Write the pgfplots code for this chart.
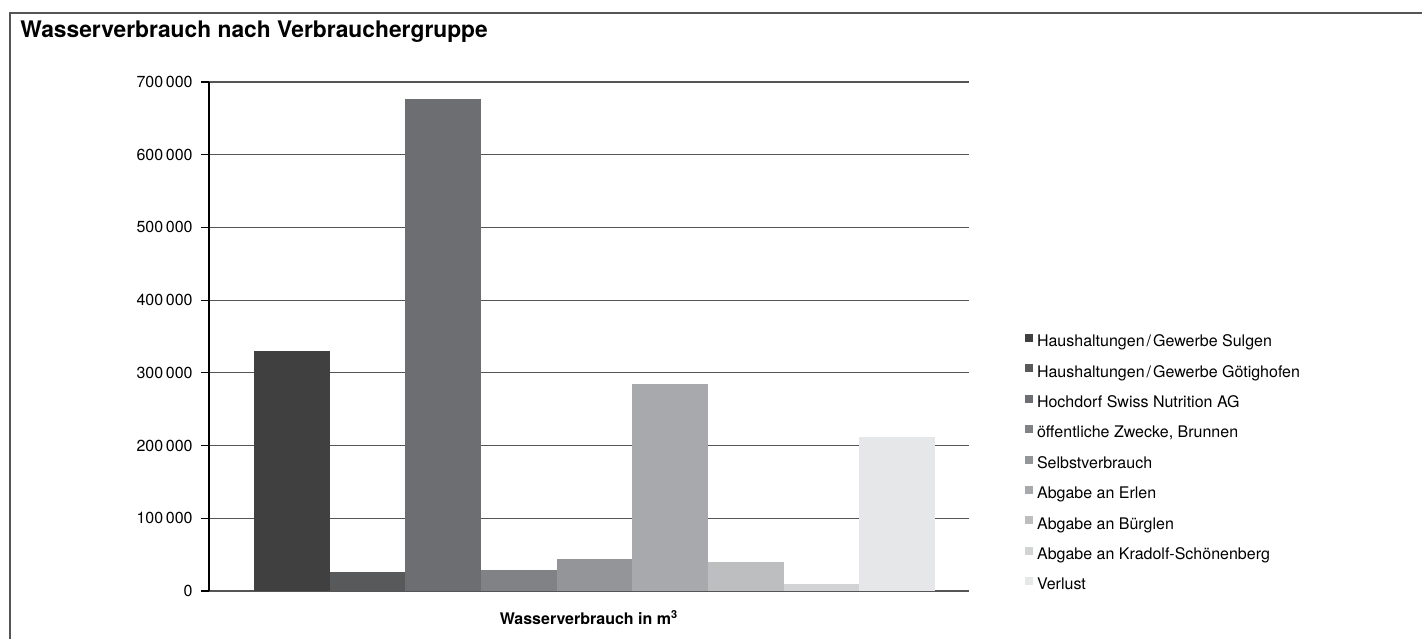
\documentclass[border=0pt]{standalone}
\usepackage{pgfplots}
\pgfplotsset{compat=1.18}
\usepackage{fontspec}
\setmainfont{TeX Gyre Heros}
\definecolor{c1}{HTML}{404041}
\definecolor{c2}{HTML}{58595B}
\definecolor{c3}{HTML}{6D6E71}
\definecolor{c4}{HTML}{808285}
\definecolor{c5}{HTML}{939598}
\definecolor{c6}{HTML}{A7A9AC}
\definecolor{c7}{HTML}{BCBEC0}
\definecolor{c8}{HTML}{D1D3D4}
\definecolor{c9}{HTML}{E6E7E8}
\definecolor{gridc}{HTML}{555555}
\pgfplotsset{
  mybar/.style={ybar, bar width=1, bar shift=0pt, draw=none, fill=#1,
    legend image code/.code={\fill[#1] (0pt,0pt) rectangle (4pt,4pt);}},
}
\begin{document}
\begin{tikzpicture}
\path[use as bounding box] (0,0) rectangle (711pt,319.5pt);
\draw[gridc, line width=1pt] (5pt,0) -- (5pt,313.15pt) -- (711pt,313.15pt);
\node[anchor=base west, inner sep=0pt, font=\fontsize{11.4}{13}\selectfont\bfseries] at (10pt,300.65pt) {Wasserverbrauch nach Verbrauchergruppe};
\begin{axis}[
  at={(104.5pt,24pt)}, anchor=south west,
  scale only axis, width=380pt, height=254.5pt,
  xmin=-0.095, xmax=9.949, ymin=0, ymax=700000,
  xtick=\empty,
  scaled y ticks=false,
  ytick={0,100000,200000,300000,400000,500000,600000,700000},
  yticklabels={0,100\,000,200\,000,300\,000,400\,000,500\,000,600\,000,700\,000},
  axis x line*=bottom, axis y line*=left,
  x axis line style={gridc, line width=0.6pt},
  y axis line style={black, line width=0.6pt},
  ymajorgrids, grid style={gridc, line width=0.6pt},
  tick align=outside, major tick length=4pt,
  tick style={black, line width=0.6pt},
  yticklabel style={font=\fontsize{8}{9.6}\selectfont, inner sep=0pt, anchor=east, xshift=-4pt},
  xlabel={Wasserverbrauch in m\textsuperscript{\fontsize{5.5}{6}\selectfont 3}},
  xlabel style={at={(axis description cs:0.5,0)}, anchor=base, yshift=-16.5pt, inner sep=0pt, font=\fontsize{8}{9.6}\selectfont\bfseries},
  legend style={at={(1.0737,0.519)}, anchor=north west, draw=none, fill=none,
    inner sep=0pt, outer sep=0pt, column sep=2pt, row sep=0pt,
    font=\fontsize{8}{9.6}\selectfont,
    nodes={inner sep=0pt, text height=10pt, text depth=5.19pt}},
  legend cell align=left,
]
\addplot[mybar=c1] coordinates {(1,330500)};
\addlegendentry{Haushaltungen\kern1pt/\kern1ptGewerbe Sulgen}
\addplot[mybar=c2] coordinates {(2,26000)};
\addlegendentry{Haushaltungen\kern1pt/\kern1ptGewerbe Götighofen}
\addplot[mybar=c3] coordinates {(3,676500)};
\addlegendentry{Hochdorf Swiss Nutrition AG}
\addplot[mybar=c4] coordinates {(4,29000)};
\addlegendentry{öffentliche Zwecke, Brunnen}
\addplot[mybar=c5] coordinates {(5,44500)};
\addlegendentry{Selbstverbrauch}
\addplot[mybar=c6] coordinates {(6,284000)};
\addlegendentry{Abgabe an Erlen}
\addplot[mybar=c7] coordinates {(7,40000)};
\addlegendentry{Abgabe an Bürglen}
\addplot[mybar=c8] coordinates {(8,9600)};
\addlegendentry{Abgabe an Kradolf-Schönenberg}
\addplot[mybar=c9] coordinates {(9,212000)};
\addlegendentry{Verlust}
\end{axis}
\end{tikzpicture}
\end{document}
